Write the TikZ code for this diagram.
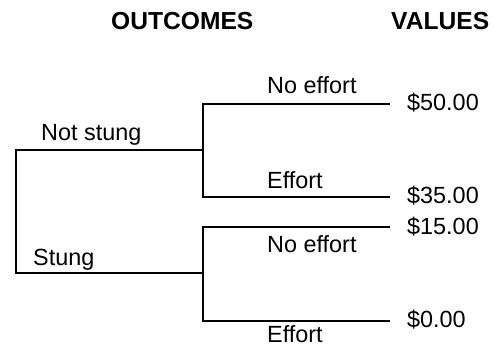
\documentclass[tikz,border=0pt]{standalone}
\usepackage{fontspec}
\setmainfont{Liberation Sans}
\begin{document}
\begin{tikzpicture}[x=1pt,y=-1pt,
  branch/.style={line width=1.4pt},
  lbl/.style={anchor=base west,inner sep=0pt,font=\fontsize{23.4}{26}\selectfont},
  head/.style={anchor=base west,inner sep=0pt,font=\fontsize{24.6}{28}\selectfont\bfseries}]
\useasboundingbox (0,0) rectangle (494,347);
% column headings
\node[head] (hout) at (111,30) {OUTCOMES};
\node[head] (hval) at (391,30) {VALUES};
% tree junctions and leaf ends
\coordinate (rootT) at (16,150);
\coordinate (rootB) at (16,273);
\coordinate (ns) at (203,150);
\coordinate (st) at (203,273);
\coordinate (nsT) at (203,104);
\coordinate (nsB) at (203,197);
\coordinate (stT) at (203,227);
\coordinate (stB) at (203,321);
\coordinate (l1) at (390,104);
\coordinate (l2) at (390,197);
\coordinate (l3) at (390,227);
\coordinate (l4) at (390,321);
% branches
\draw[branch] (ns) -- (rootT) -- (rootB) -- (st);
\draw[branch] (l1) -- (nsT) -- (nsB) -- (l2);
\draw[branch] (l3) -- (stT) -- (stB) -- (l4);
% branch labels
\node[lbl] (notstung) at (41,141) {Not stung};
\node[lbl] (stung) at (33,265) {Stung};
\node[lbl] (ne1) at (267,94) {No effort};
\node[lbl] (ef1) at (267,188) {Effort};
\node[lbl] (ne2) at (267,252) {No effort};
\node[lbl] (ef2) at (267,342.5) {Effort};
% values
\node[lbl] (v1) at (407,111) {\$50.00};
\node[lbl] (v2) at (407,203) {\$35.00};
\node[lbl] (v3) at (407,234) {\$15.00};
\node[lbl] (v4) at (407,327) {\$0.00};
\end{tikzpicture}
\end{document}
